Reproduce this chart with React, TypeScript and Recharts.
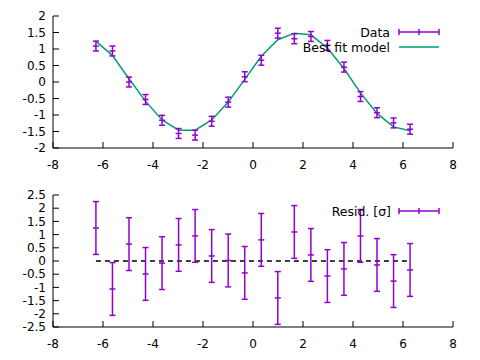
import React from 'react';
import { ComposedChart, Line, XAxis, YAxis, ErrorBar } from 'recharts';

const xValues = [-6.283, -5.622, -4.96, -4.299, -3.638, -2.976, -2.315, -1.653, -0.992, -0.331, 0.331, 0.992, 1.653, 2.315, 2.976, 3.638, 4.299, 4.96, 5.622, 6.283];
const dataValues = [1.09, 0.94, 0.0, -0.53, -1.16, -1.56, -1.61, -1.19, -0.61, 0.16, 0.66, 1.48, 1.31, 1.38, 1.11, 0.45, -0.44, -0.93, -1.24, -1.43];
const dataErrors = [0.15, 0.15, 0.15, 0.15, 0.15, 0.15, 0.15, 0.15, 0.15, 0.15, 0.15, 0.15, 0.15, 0.15, 0.15, 0.15, 0.15, 0.15, 0.15, 0.15];
const modelValues = [1.24, 0.8, 0.1, -0.58, -1.15, -1.46, -1.46, -1.15, -0.61, 0.08, 0.78, 1.28, 1.48, 1.43, 1.03, 0.41, -0.33, -0.95, -1.36, -1.48];
const residValues = [1.25, -1.06, 0.64, -0.49, -0.08, 0.61, 0.95, 0.19, 0.02, -0.45, 0.8, -1.4, 1.1, 0.23, -0.57, -0.3, 0.95, -0.15, -0.76, -0.34];
const residErrors = [1, 1, 1, 1, 1, 1, 1, 1, 1, 1, 1, 1, 1, 1, 1, 1, 1, 1, 1, 1];
const zeroValues = [0, 0, 0, 0, 0, 0, 0, 0, 0, 0, 0, 0, 0, 0, 0, 0, 0, 0, 0, 0];

const xTicks = [-8, -6, -4, -2, 0, 2, 4, 6, 8];
const topYTicks = [-2, -1.5, -1, -0.5, 0, 0.5, 1, 1.5, 2];
const bottomYTicks = [-2.5, -2, -1.5, -1, -0.5, 0, 0.5, 1, 1.5, 2, 2.5];

const topLegend = ['Data', 'Best fit model'];
const bottomLegend = ['Resid. [σ]'];

const PURPLE = '#9400d3';
const GREEN = '#009e73';
const FONT = '"DejaVu Sans", sans-serif';
const FS = 12.5;
const TFS = 12;

const topRows = xValues.map((x, i) => ({ x, data: dataValues[i], err: dataErrors[i], model: modelValues[i] }));
const bottomRows = xValues.map((x, i) => ({ x, resid: residValues[i], rerr: residErrors[i], zero: zeroValues[i] }));

const tickStyle = { fill: '#000', fontSize: TFS, fontFamily: FONT };

const PointTick = (p: any) => {
  if (p.cx == null || p.cy == null) return <g key={p.index} />;
  return <line key={p.index} x1={p.cx - 3} x2={p.cx + 3} y1={p.cy} y2={p.cy} stroke={PURPLE} strokeWidth={1.5} />;
};

const ErrSample = ({ y }: { y: number }) => (
  <g stroke={PURPLE} strokeWidth={1.5}>
    <line x1={399} x2={439} y1={y} y2={y} />
    <line x1={399} x2={399} y1={y - 3} y2={y + 3} />
    <line x1={439} x2={439} y1={y - 3} y2={y + 3} />
    <line x1={419} x2={419} y1={y - 3} y2={y + 3} />
  </g>
);

export default function App() {
  const axisCommon = {
    stroke: '#000',
    tickSize: -6,
    interval: 0,
    allowDataOverflow: true,
  } as any;
  return (
    <div style={{ position: 'absolute', left: 0, top: 0, width: 480, height: 360, background: '#fff' }}>
      <div style={{ position: 'relative', width: 480, height: 180 }}>
        <ComposedChart width={480} height={180} data={topRows} margin={{ top: 16, right: 27, bottom: 0, left: 0 }} style={{ fontFamily: FONT }}>
          <XAxis xAxisId="b" dataKey="x" type="number" domain={[-8, 8]} ticks={xTicks} height={32} tickMargin={18} tick={tickStyle} {...axisCommon} />
          <XAxis xAxisId="t" orientation="top" dataKey="x" type="number" domain={[-8, 8]} ticks={xTicks} height={0} tickFormatter={() => ''} {...axisCommon} />
          <YAxis yAxisId="l" type="number" domain={[-2, 2]} ticks={topYTicks} width={53} tickMargin={13} tick={tickStyle} {...axisCommon} />
          <YAxis yAxisId="r" orientation="right" type="number" domain={[-2, 2]} ticks={topYTicks} width={0} tickFormatter={() => ''} {...axisCommon} />
          <Line xAxisId="b" yAxisId="l" type="linear" dataKey="model" stroke={GREEN} strokeWidth={1.5} dot={false} isAnimationActive={false} />
          <Line xAxisId="b" yAxisId="l" type="linear" dataKey="data" stroke="none" dot={PointTick} activeDot={false} isAnimationActive={false}>
            <ErrorBar dataKey="err" direction="y" width={3} stroke={PURPLE} strokeWidth={1.5} isAnimationActive={false} />
          </Line>
        </ComposedChart>
        <svg width={480} height={180} style={{ position: 'absolute', left: 0, top: 0, pointerEvents: 'none' }}>
          <text x={390} y={32} textAnchor="end" dominantBaseline="central" fontFamily={FONT} fontSize={FS} fill="#000">{topLegend[0]}</text>
          <ErrSample y={32} />
          <text x={390} y={47} textAnchor="end" dominantBaseline="central" fontFamily={FONT} fontSize={FS} fill="#000">{topLegend[1]}</text>
          <line x1={399} x2={439} y1={47} y2={47} stroke={GREEN} strokeWidth={1.5} />
        </svg>
      </div>
      <div style={{ position: 'relative', width: 480, height: 180 }}>
        <ComposedChart width={480} height={180} data={bottomRows} margin={{ top: 15, right: 27, bottom: 0, left: 0 }} style={{ fontFamily: FONT }}>
          <XAxis xAxisId="b" dataKey="x" type="number" domain={[-8, 8]} ticks={xTicks} height={33} tickMargin={18} tick={tickStyle} {...axisCommon} />
          <XAxis xAxisId="t" orientation="top" dataKey="x" type="number" domain={[-8, 8]} ticks={xTicks} height={0} tickFormatter={() => ''} {...axisCommon} />
          <YAxis yAxisId="l" type="number" domain={[-2.5, 2.5]} ticks={bottomYTicks} width={53} tickMargin={13} tick={tickStyle} {...axisCommon} />
          <YAxis yAxisId="r" orientation="right" type="number" domain={[-2.5, 2.5]} ticks={bottomYTicks} width={0} tickFormatter={() => ''} {...axisCommon} />
          <Line xAxisId="b" yAxisId="l" type="linear" dataKey="zero" stroke="#000" strokeWidth={1.5} strokeDasharray="5 4" dot={false} isAnimationActive={false} />
          <Line xAxisId="b" yAxisId="l" type="linear" dataKey="resid" stroke="none" dot={PointTick} activeDot={false} isAnimationActive={false}>
            <ErrorBar dataKey="rerr" direction="y" width={3} stroke={PURPLE} strokeWidth={1.5} isAnimationActive={false} />
          </Line>
        </ComposedChart>
        <svg width={480} height={180} style={{ position: 'absolute', left: 0, top: 0, pointerEvents: 'none' }}>
          <text x={391} y={31} textAnchor="end" dominantBaseline="central" fontFamily={FONT} fontSize={FS} fill="#000">{bottomLegend[0]}</text>
          <ErrSample y={31} />
        </svg>
      </div>
    </div>
  );
}
